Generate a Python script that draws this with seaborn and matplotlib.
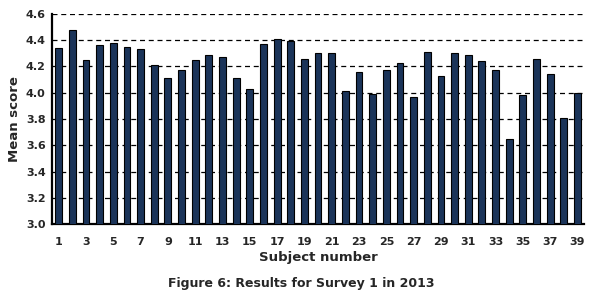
import matplotlib
matplotlib.use("Agg")
import matplotlib.pyplot as plt
import seaborn as sns
import pandas as pd
import numpy as np

subjects = [str(i) for i in range(1, 40)]
mean_scores = [4.34, 4.48, 4.25, 4.36, 4.38, 4.35, 4.33, 4.21, 4.11, 4.17,
               4.25, 4.29, 4.27, 4.11, 4.03, 4.37, 4.41, 4.39, 4.26, 4.30,
               4.30, 4.01, 4.16, 3.99, 4.17, 4.23, 3.97, 4.31, 4.13, 4.30,
               4.29, 4.24, 4.17, 3.65, 3.98, 4.26, 4.14, 3.81, 4.00]
y_ticks = [3.0, 3.2, 3.4, 3.6, 3.8, 4.0, 4.2, 4.4, 4.6]

df = pd.DataFrame({"Subject": subjects, "Mean": mean_scores})

sns.set_style("white")
plt.rcParams['font.family'] = ['DejaVu Sans']

fig = plt.figure(figsize=(6.03, 2.96), dpi=100)
ax = fig.add_axes([0.086, 0.243, 0.883, 0.710])

sns.barplot(data=df, x="Subject", y="Mean", color="#1b3459", width=0.5,
            edgecolor="black", linewidth=0.8, saturation=1, ax=ax, zorder=3)

ax.set_ylim(3.0, 4.6)
ax.set_xlim(-0.5, len(subjects) - 0.5)
ax.set_yticks(y_ticks)
ax.set_yticklabels([f"{v:.1f}" for v in y_ticks], fontsize=8, fontweight="bold")
for v in y_ticks[1:]:
    ax.axhline(v, color="black", linestyle=(0, (4, 3)), linewidth=0.9, zorder=1)

major = list(range(0, len(subjects), 2))
ax.set_xticks(major)
ax.set_xticklabels([subjects[i] for i in major], fontsize=8, fontweight="bold")
ax.set_xticks(np.arange(-0.5, len(subjects), 1.0), minor=True)
ax.tick_params(axis="x", which="major", length=0, pad=9)
ax.tick_params(axis="x", which="minor", length=5, direction="inout", width=1.2)
ax.tick_params(axis="y", which="major", length=5, direction="inout", width=1.2, pad=2)

for s in ["top", "right"]:
    ax.spines[s].set_visible(False)
for s in ["left", "bottom"]:
    ax.spines[s].set_color("black")
    ax.spines[s].set_linewidth(1.6)

ax.set_xlabel("Subject number", fontsize=9.5, fontweight="bold", labelpad=3)
ax.set_ylabel("Mean score", fontsize=9.5, fontweight="bold", labelpad=3)

fig.text(0.5, 0.03, "Figure 6: Results for Survey 1 in 2013", ha="center",
         fontsize=9, fontweight="bold")

fig.savefig("out.png", dpi=100)
